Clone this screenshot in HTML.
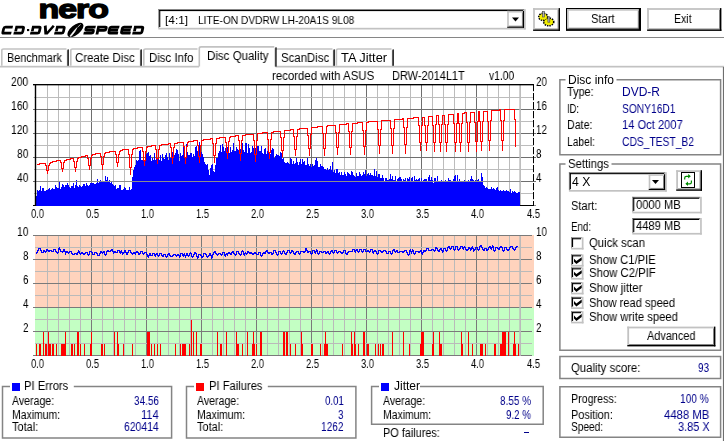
<!DOCTYPE html>
<html><head><meta charset="utf-8"><title>Nero CD-DVD Speed</title>
<style>
html,body{margin:0;padding:0;background:#fff;}
body{width:724px;height:441px;overflow:hidden;position:relative;font-family:"Liberation Sans",sans-serif;font-size:12px;color:#000;}
.t{position:absolute;white-space:pre;line-height:14px;height:14px;font-family:"Liberation Sans",sans-serif;will-change:transform;}
.sunk{position:absolute;box-sizing:border-box;background:#fff;border-top:1px solid #808080;border-left:1px solid #808080;border-right:1px solid #fff;border-bottom:1px solid #fff;}
.sunk>i{position:absolute;left:0;top:0;right:0;bottom:0;border-top:1px solid #000;border-left:1px solid #000;border-right:1px solid #c8c8c8;border-bottom:1px solid #c8c8c8;}
.btn{position:absolute;box-sizing:border-box;background:#fff;border-top:1px solid #fff;border-left:1px solid #fff;border-right:1px solid #000;border-bottom:1px solid #000;}
.btn>i{position:absolute;left:0;top:0;right:0;bottom:0;border-top:1px solid #c8c8c8;border-left:1px solid #c8c8c8;border-right:1px solid #808080;border-bottom:1px solid #808080;}
.grp{position:absolute;box-sizing:border-box;border:1px solid #808080;}
.cap{position:absolute;background:#fff;height:6px;top:-3px;}
.cb{position:absolute;box-sizing:border-box;width:13px;height:13px;background:#fff;border-top:1px solid #808080;border-left:1px solid #808080;border-right:1px solid #fff;border-bottom:1px solid #fff;}
.cb>i{position:absolute;left:0;top:0;right:0;bottom:0;border-top:1px solid #000;border-left:1px solid #000;border-right:1px solid #c8c8c8;border-bottom:1px solid #c8c8c8;}
svg{position:absolute;left:0;top:0;}
</style></head><body>

<svg width="150" height="40" viewBox="0 0 150 40">
<text font-family="Liberation Sans" font-weight="bold" font-size="26.6" stroke="#000" stroke-width="1.35" stroke-linejoin="round" letter-spacing="-0.75" transform="translate(38.4,17.9) scale(1.275,1)">nero</text>
<g fill="none" stroke="#000">
<path transform="translate(0.9,34.6) skewX(-13)" stroke-width="2.75" d="M10.1,-7.525H2.675Q1.375,-7.525 1.375,-6.2250000000000005V-2.675Q1.375,-1.375 2.675,-1.375H10.1"/>
<path transform="translate(13.3,34.6) skewX(-13)" stroke-width="2.75" d="M1.575,-3.45V-7.525H7.425Q8.725,-7.525 8.725,-6.2250000000000005V-2.675Q8.725,-1.375 7.425,-1.375H0"/>
<path transform="translate(29.9,34.6) skewX(-13)" stroke-width="2.75" d="M1.575,-3.45V-7.525H7.425Q8.725,-7.525 8.725,-6.2250000000000005V-2.675Q8.725,-1.375 7.425,-1.375H0"/>
<path transform="translate(41.8,34.6) skewX(-13)" stroke-width="2.75" d="M1.375,-8.9L3.6359999999999997,-1.375H5.05L9.9,-8.9"/>
<path transform="translate(54.0,34.6) skewX(-13)" stroke-width="2.75" d="M1.575,-3.45V-7.525H7.425Q8.725,-7.525 8.725,-6.2250000000000005V-2.675Q8.725,-1.375 7.425,-1.375H0"/>
<path transform="translate(83.3,34.6) skewX(-12)" stroke-width="2.85" d="M10.7,-7.4750000000000005H2.725Q1.425,-7.4750000000000005 1.425,-6.4350000000000005V-5.49Q1.425,-4.45 2.725,-4.45H7.974999999999999Q9.274999999999999,-4.45 9.274999999999999,-3.41V-2.465Q9.274999999999999,-1.425 7.974999999999999,-1.425H0"/>
<path transform="translate(95.5,34.6) skewX(-12)" stroke-width="2.85" d="M1.425,0V-7.4750000000000005H7.974999999999999Q9.274999999999999,-7.4750000000000005 9.274999999999999,-6.4350000000000005V-5.19Q9.274999999999999,-4.15 7.974999999999999,-4.15H1.425"/>
<path transform="translate(107.0,34.6) skewX(-12)" stroke-width="2.85" d="M10.7,-7.4750000000000005H2.725Q1.425,-7.4750000000000005 1.425,-6.175000000000001V-2.725Q1.425,-1.425 2.725,-1.425H10.7M1.425,-4.45H10.1"/>
<path transform="translate(119.6,34.6) skewX(-12)" stroke-width="2.85" d="M10.7,-7.4750000000000005H2.725Q1.425,-7.4750000000000005 1.425,-6.175000000000001V-2.725Q1.425,-1.425 2.725,-1.425H10.7M1.425,-4.45H10.1"/>
<path transform="translate(132.1,34.6) skewX(-12)" stroke-width="2.85" d="M1.625,-3.45V-7.4750000000000005H7.974999999999999Q9.274999999999999,-7.4750000000000005 9.274999999999999,-6.175000000000001V-2.725Q9.274999999999999,-1.425 7.974999999999999,-1.425H0"/>
</g>
<rect x="27" y="29" width="2.2" height="2.1" fill="#000"/>
<ellipse cx="75.4" cy="30" rx="4.7" ry="9.7" transform="rotate(51 75.4 30)" fill="#000"/>
<path d="M69.9 36.1Q73.4 31.0 77.0 27.6Q75.8 31.4 71.0 36.6Z" fill="#fff" stroke="#fff" stroke-width="0.5"/>
<path d="M77.6 27.2L80.6 24.4" fill="none" stroke="#ddd" stroke-width="0.8"/>
</svg>
<div style="position:absolute;left:0px;top:37px;width:724px;height:1px;background:#868686;"></div>
<svg width="724" height="441"><rect x="158.3" y="9.1" width="367.40" height="20.40" fill="#fff"/><rect x="524.00" y="9.1" width="1.7" height="20.40" fill="#c2c2c2"/><rect x="158.3" y="27.80" width="367.40" height="1.7" fill="#c2c2c2"/><rect x="158.3" y="9.1" width="365.70" height="1" fill="#7a7a7a"/><rect x="158.3" y="9.1" width="1" height="18.70" fill="#7a7a7a"/><rect x="159.20" y="10.00" width="364.00" height="1.1" fill="#000"/><rect x="159.20" y="10.00" width="1.1" height="17.00" fill="#000"/></svg>
<div class="t" style="top:13.2px;color:#000;font-size:11px;left:164.8px;transform:scaleX(1.080);transform-origin:0 0;">[4:1]</div>
<div class="t" style="top:13.2px;color:#000;font-size:11px;left:197.7px;transform:scaleX(0.924);transform-origin:0 0;">LITE-ON DVDRW LH-20A1S 9L08</div>
<svg width="724" height="441"><rect x="507.2" y="10.9" width="16.80" height="16.90" fill="#fff"/><rect x="507.2" y="10.9" width="15.70" height="1.6" fill="#c2c2c2"/><rect x="507.2" y="10.9" width="1.6" height="15.80" fill="#c2c2c2"/><rect x="508.80" y="25.70" width="14.10" height="1" fill="#858585"/><rect x="521.90" y="12.50" width="1" height="14.20" fill="#858585"/><rect x="507.2" y="26.70" width="16.80" height="1.1" fill="#000"/><rect x="522.90" y="10.9" width="1.1" height="16.90" fill="#000"/></svg>
<svg width="724" height="441"><path d="M512 17.5h7l-3.5 4z" fill="#000"/></svg>
<svg width="724" height="441"><rect x="533.1" y="8.1" width="26.90" height="22.80" fill="#fff"/><rect x="533.1" y="8.1" width="25.50" height="1.8" fill="#c2c2c2"/><rect x="533.1" y="8.1" width="1.8" height="21.40" fill="#c2c2c2"/><rect x="534.90" y="28.50" width="23.70" height="1" fill="#858585"/><rect x="557.60" y="9.90" width="1" height="19.60" fill="#858585"/><rect x="533.1" y="29.50" width="26.90" height="1.4" fill="#000"/><rect x="558.60" y="8.1" width="1.4" height="22.80" fill="#000"/></svg>
<svg width="724" height="441">
<g stroke="#000" stroke-width="1.9" fill="#f2ee00" stroke-dasharray="1.4 0.9">
<ellipse cx="543.2" cy="16.9" rx="4.3" ry="3.4"/>
<ellipse cx="548.7" cy="21.9" rx="4.9" ry="3.7"/>
</g>
<ellipse cx="543.2" cy="16.9" rx="3.6" ry="2.7" fill="#f2ee00"/><ellipse cx="548.7" cy="21.9" rx="4.2" ry="3.0" fill="#f2ee00"/>
<rect x="542.5" y="11.4" width="1.9" height="5.6" fill="#b4b4b4" stroke="#444" stroke-width="0.6"/>
<rect x="547.9" y="16.8" width="1.9" height="5.4" fill="#b4b4b4" stroke="#444" stroke-width="0.6"/>
</svg>
<svg width="724" height="441"><rect x="566" y="8" width="75.00" height="22.90" fill="#fff"/><rect x="566.5" y="8.5" width="74.00" height="21.90" fill="none" stroke="#000" stroke-width="1"/><rect x="567" y="9" width="71.80" height="1.7" fill="#c2c2c2"/><rect x="567" y="9" width="1.7" height="19.70" fill="#c2c2c2"/><rect x="568.70" y="27.70" width="70.10" height="1" fill="#858585"/><rect x="637.80" y="10.70" width="1" height="18.00" fill="#858585"/><rect x="567" y="28.70" width="73.00" height="1.2" fill="#000"/><rect x="638.80" y="9" width="1.2" height="20.90" fill="#000"/></svg>
<div class="t" style="top:11.9px;color:#000;font-size:12px;left:590.7px;transform:scaleX(0.932);transform-origin:0 0;">Start</div>
<svg width="724" height="441"><rect x="647.1" y="8.1" width="74.30" height="22.80" fill="#fff"/><rect x="647.1" y="8.1" width="72.90" height="1.8" fill="#c2c2c2"/><rect x="647.1" y="8.1" width="1.8" height="21.40" fill="#c2c2c2"/><rect x="648.90" y="28.50" width="71.10" height="1" fill="#858585"/><rect x="719.00" y="9.90" width="1" height="19.60" fill="#858585"/><rect x="647.1" y="29.50" width="74.30" height="1.4" fill="#000"/><rect x="720.00" y="8.1" width="1.4" height="22.80" fill="#000"/></svg>
<div class="t" style="top:11.9px;color:#000;font-size:12px;left:674.4px;transform:scaleX(0.877);transform-origin:0 0;">Exit</div>
<svg width="724" height="441"><rect x="0" y="65.8" width="199" height="1.7" fill="#c2c2c2"/><rect x="275.5" y="65.8" width="448.5" height="1.7" fill="#c2c2c2"/><rect x="722.9" y="67" width="1.1" height="374" fill="#6e6e6e"/><path d="M1.8 65.8V50.6Q1.8 49.0 3.6 49.0H66.5" fill="none" stroke="#c2c2c2" stroke-width="1.6"/><rect x="66.9" y="50.2" width="1" height="15.599999999999994" fill="#8a8a8a"/><rect x="67.6" y="49.400000000000006" width="1.2" height="16.399999999999995" fill="#000"/><path d="M70.8 65.8V50.6Q70.8 49.0 72.6 49.0H139.5" fill="none" stroke="#c2c2c2" stroke-width="1.6"/><rect x="139.9" y="50.2" width="1" height="15.599999999999994" fill="#8a8a8a"/><rect x="140.6" y="49.400000000000006" width="1.2" height="16.399999999999995" fill="#000"/><path d="M143.8 65.8V50.6Q143.8 49.0 145.6 49.0H197.5" fill="none" stroke="#c2c2c2" stroke-width="1.6"/><path d="M276 49.0H332.5" fill="none" stroke="#c2c2c2" stroke-width="1.6"/><rect x="332.9" y="50.2" width="1" height="15.599999999999994" fill="#8a8a8a"/><rect x="333.6" y="49.400000000000006" width="1.2" height="16.399999999999995" fill="#000"/><path d="M336.40000000000003 65.8V50.6Q336.40000000000003 49.0 338.20000000000005 49.0H391.5" fill="none" stroke="#c2c2c2" stroke-width="1.6"/><rect x="391.9" y="50.2" width="1" height="15.599999999999994" fill="#8a8a8a"/><rect x="392.6" y="49.400000000000006" width="1.2" height="16.399999999999995" fill="#000"/><path d="M199.3 66.6V48.5Q199.3 46.9 201.1 46.9H274.3" fill="none" stroke="#c2c2c2" stroke-width="1.6"/><rect x="274.7" y="48.1" width="1" height="18.499999999999993" fill="#8a8a8a"/><rect x="275.40000000000003" y="47.300000000000004" width="1.2" height="19.299999999999994" fill="#000"/></svg>
<div class="t" style="top:50.9px;color:#000;font-size:12px;left:6.6px;transform:scaleX(0.904);transform-origin:0 0;">Benchmark</div>
<div class="t" style="top:50.9px;color:#000;font-size:12px;left:74.9px;transform:scaleX(0.953);transform-origin:0 0;">Create Disc</div>
<div class="t" style="top:50.9px;color:#000;font-size:12px;left:148.5px;transform:scaleX(0.951);transform-origin:0 0;">Disc Info</div>
<div class="t" style="top:50.9px;color:#000;font-size:12px;left:280.5px;transform:scaleX(0.950);transform-origin:0 0;">ScanDisc</div>
<div class="t" style="top:50.9px;color:#000;font-size:12px;left:340.8px;transform:scaleX(1.069);transform-origin:0 0;">TA Jitter</div>
<div class="t" style="top:48.7px;color:#000;font-size:12px;left:206.6px;transform:scaleX(0.960);transform-origin:0 0;">Disc Quality</div>
<div class="t" style="top:68.8px;color:#000;font-size:12px;left:271.7px;transform:scaleX(0.951);transform-origin:0 0;">recorded with ASUS</div>
<div class="t" style="top:68.8px;color:#000;font-size:12px;left:392.0px;transform:scaleX(0.914);transform-origin:0 0;">DRW-2014L1T</div>
<div class="t" style="top:68.8px;color:#000;font-size:12px;left:488.8px;transform:scaleX(0.856);transform-origin:0 0;">v1.00</div>
<svg width="724" height="441" shape-rendering="crispEdges"><rect x="35" y="235" width="499" height="72.5" fill="#ffd3bd"/><rect x="35" y="307.5" width="499" height="48.5" fill="#c3ffc3"/><rect x="47" y="85" width="1" height="121" fill="#bcbcbc"/><rect x="47" y="236" width="1" height="120" fill="#bababa"/><rect x="58" y="85" width="1" height="121" fill="#bcbcbc"/><rect x="58" y="236" width="1" height="120" fill="#bababa"/><rect x="69" y="85" width="1" height="121" fill="#bcbcbc"/><rect x="69" y="236" width="1" height="120" fill="#bababa"/><rect x="80" y="85" width="1" height="121" fill="#bcbcbc"/><rect x="80" y="236" width="1" height="120" fill="#bababa"/><rect x="91" y="85" width="1" height="121" fill="#6e6e6e"/><rect x="91" y="236" width="1" height="120" fill="#7a7a7a"/><rect x="102" y="85" width="1" height="121" fill="#bcbcbc"/><rect x="102" y="236" width="1" height="120" fill="#bababa"/><rect x="113" y="85" width="1" height="121" fill="#bcbcbc"/><rect x="113" y="236" width="1" height="120" fill="#bababa"/><rect x="124" y="85" width="1" height="121" fill="#bcbcbc"/><rect x="124" y="236" width="1" height="120" fill="#bababa"/><rect x="135" y="85" width="1" height="121" fill="#bcbcbc"/><rect x="135" y="236" width="1" height="120" fill="#bababa"/><rect x="146" y="85" width="1" height="121" fill="#6e6e6e"/><rect x="146" y="236" width="1" height="120" fill="#7a7a7a"/><rect x="157" y="85" width="1" height="121" fill="#bcbcbc"/><rect x="157" y="236" width="1" height="120" fill="#bababa"/><rect x="168" y="85" width="1" height="121" fill="#bcbcbc"/><rect x="168" y="236" width="1" height="120" fill="#bababa"/><rect x="179" y="85" width="1" height="121" fill="#bcbcbc"/><rect x="179" y="236" width="1" height="120" fill="#bababa"/><rect x="190" y="85" width="1" height="121" fill="#bcbcbc"/><rect x="190" y="236" width="1" height="120" fill="#bababa"/><rect x="201" y="85" width="1" height="121" fill="#6e6e6e"/><rect x="201" y="236" width="1" height="120" fill="#7a7a7a"/><rect x="212" y="85" width="1" height="121" fill="#bcbcbc"/><rect x="212" y="236" width="1" height="120" fill="#bababa"/><rect x="223" y="85" width="1" height="121" fill="#bcbcbc"/><rect x="223" y="236" width="1" height="120" fill="#bababa"/><rect x="234" y="85" width="1" height="121" fill="#bcbcbc"/><rect x="234" y="236" width="1" height="120" fill="#bababa"/><rect x="245" y="85" width="1" height="121" fill="#bcbcbc"/><rect x="245" y="236" width="1" height="120" fill="#bababa"/><rect x="256" y="85" width="1" height="121" fill="#6e6e6e"/><rect x="256" y="236" width="1" height="120" fill="#7a7a7a"/><rect x="267" y="85" width="1" height="121" fill="#bcbcbc"/><rect x="267" y="236" width="1" height="120" fill="#bababa"/><rect x="278" y="85" width="1" height="121" fill="#bcbcbc"/><rect x="278" y="236" width="1" height="120" fill="#bababa"/><rect x="289" y="85" width="1" height="121" fill="#bcbcbc"/><rect x="289" y="236" width="1" height="120" fill="#bababa"/><rect x="300" y="85" width="1" height="121" fill="#bcbcbc"/><rect x="300" y="236" width="1" height="120" fill="#bababa"/><rect x="311" y="85" width="1" height="121" fill="#6e6e6e"/><rect x="311" y="236" width="1" height="120" fill="#7a7a7a"/><rect x="322" y="85" width="1" height="121" fill="#bcbcbc"/><rect x="322" y="236" width="1" height="120" fill="#bababa"/><rect x="333" y="85" width="1" height="121" fill="#bcbcbc"/><rect x="333" y="236" width="1" height="120" fill="#bababa"/><rect x="344" y="85" width="1" height="121" fill="#bcbcbc"/><rect x="344" y="236" width="1" height="120" fill="#bababa"/><rect x="355" y="85" width="1" height="121" fill="#bcbcbc"/><rect x="355" y="236" width="1" height="120" fill="#bababa"/><rect x="366" y="85" width="1" height="121" fill="#6e6e6e"/><rect x="366" y="236" width="1" height="120" fill="#7a7a7a"/><rect x="377" y="85" width="1" height="121" fill="#bcbcbc"/><rect x="377" y="236" width="1" height="120" fill="#bababa"/><rect x="388" y="85" width="1" height="121" fill="#bcbcbc"/><rect x="388" y="236" width="1" height="120" fill="#bababa"/><rect x="399" y="85" width="1" height="121" fill="#bcbcbc"/><rect x="399" y="236" width="1" height="120" fill="#bababa"/><rect x="410" y="85" width="1" height="121" fill="#bcbcbc"/><rect x="410" y="236" width="1" height="120" fill="#bababa"/><rect x="421" y="85" width="1" height="121" fill="#6e6e6e"/><rect x="421" y="236" width="1" height="120" fill="#7a7a7a"/><rect x="432" y="85" width="1" height="121" fill="#bcbcbc"/><rect x="432" y="236" width="1" height="120" fill="#bababa"/><rect x="443" y="85" width="1" height="121" fill="#bcbcbc"/><rect x="443" y="236" width="1" height="120" fill="#bababa"/><rect x="454" y="85" width="1" height="121" fill="#bcbcbc"/><rect x="454" y="236" width="1" height="120" fill="#bababa"/><rect x="465" y="85" width="1" height="121" fill="#bcbcbc"/><rect x="465" y="236" width="1" height="120" fill="#bababa"/><rect x="476" y="85" width="1" height="121" fill="#6e6e6e"/><rect x="476" y="236" width="1" height="120" fill="#7a7a7a"/><rect x="487" y="85" width="1" height="121" fill="#bcbcbc"/><rect x="487" y="236" width="1" height="120" fill="#bababa"/><rect x="498" y="85" width="1" height="121" fill="#bcbcbc"/><rect x="498" y="236" width="1" height="120" fill="#bababa"/><rect x="509" y="85" width="1" height="121" fill="#bcbcbc"/><rect x="509" y="236" width="1" height="120" fill="#bababa"/><rect x="520" y="85" width="1" height="121" fill="#bcbcbc"/><rect x="520" y="236" width="1" height="120" fill="#bababa"/><rect x="34" y="97" width="499" height="1" fill="#bcbcbc"/><rect x="33" y="109" width="503" height="1" fill="#6e6e6e"/><rect x="34" y="121" width="499" height="1" fill="#bcbcbc"/><rect x="33" y="133" width="503" height="1" fill="#6e6e6e"/><rect x="34" y="145" width="499" height="1" fill="#bcbcbc"/><rect x="33" y="157" width="503" height="1" fill="#6e6e6e"/><rect x="34" y="169" width="499" height="1" fill="#bcbcbc"/><rect x="33" y="181" width="503" height="1" fill="#6e6e6e"/><rect x="34" y="193" width="499" height="1" fill="#bcbcbc"/><rect x="33" y="235" width="499" height="1" fill="#7a7a7a"/><rect x="35" y="247" width="497" height="1" fill="#bababa"/><rect x="33" y="259" width="499" height="1" fill="#7a7a7a"/><rect x="35" y="271" width="497" height="1" fill="#bababa"/><rect x="33" y="283" width="499" height="1" fill="#7a7a7a"/><rect x="35" y="295" width="497" height="1" fill="#bababa"/><rect x="33" y="307" width="499" height="1" fill="#7a7a7a"/><rect x="35" y="319" width="497" height="1" fill="#bababa"/><rect x="33" y="331" width="499" height="1" fill="#7a7a7a"/><rect x="35" y="343" width="497" height="1" fill="#bababa"/><rect x="33" y="355" width="499" height="1" fill="#7a7a7a"/><rect x="519.3" y="85" width="1.6" height="121" fill="#bdbdbd" shape-rendering="auto"/><rect x="519.3" y="236" width="1.6" height="120" fill="#bbbbbb" shape-rendering="auto"/><path d="M36 196h1v10h-1zM37 190h1v16h-1zM38 191h1v15h-1zM39 190h1v16h-1zM40 186h1v20h-1zM41 191h1v15h-1zM42 188h1v18h-1zM43 188h1v18h-1zM44 191h1v15h-1zM45 191h1v15h-1zM46 190h1v16h-1zM47 190h1v16h-1zM48 189h1v17h-1zM49 188h1v18h-1zM50 190h1v16h-1zM51 189h1v17h-1zM52 188h1v18h-1zM53 189h1v17h-1zM54 189h1v17h-1zM55 185h1v21h-1zM56 187h1v19h-1zM57 188h1v18h-1zM58 188h1v18h-1zM59 182h1v24h-1zM60 189h1v17h-1zM61 187h1v19h-1zM62 184h1v22h-1zM63 185h1v21h-1zM64 187h1v19h-1zM65 185h1v21h-1zM66 185h1v21h-1zM67 183h1v23h-1zM68 185h1v21h-1zM69 187h1v19h-1zM70 188h1v18h-1zM71 186h1v20h-1zM72 186h1v20h-1zM73 183h1v23h-1zM74 188h1v18h-1zM75 185h1v21h-1zM76 180h1v26h-1zM77 186h1v20h-1zM78 187h1v19h-1zM79 185h1v21h-1zM80 186h1v20h-1zM81 187h1v19h-1zM82 186h1v20h-1zM83 184h1v22h-1zM84 184h1v22h-1zM85 186h1v20h-1zM86 183h1v23h-1zM87 185h1v21h-1zM88 186h1v20h-1zM89 185h1v21h-1zM90 183h1v23h-1zM91 183h1v23h-1zM92 183h1v23h-1zM93 183h1v23h-1zM94 184h1v22h-1zM95 184h1v22h-1zM96 183h1v23h-1zM97 179h1v27h-1zM98 183h1v23h-1zM99 182h1v24h-1zM100 180h1v26h-1zM101 181h1v25h-1zM102 181h1v25h-1zM103 181h1v25h-1zM104 181h1v25h-1zM105 176h1v30h-1zM106 180h1v26h-1zM107 177h1v29h-1zM108 181h1v25h-1zM109 180h1v26h-1zM110 183h1v23h-1zM111 181h1v25h-1zM112 184h1v22h-1zM113 185h1v21h-1zM114 186h1v20h-1zM115 185h1v21h-1zM116 189h1v17h-1zM117 188h1v18h-1zM118 188h1v18h-1zM119 185h1v21h-1zM120 185h1v21h-1zM121 190h1v16h-1zM122 190h1v16h-1zM123 189h1v17h-1zM124 187h1v19h-1zM125 188h1v18h-1zM126 190h1v16h-1zM127 190h1v16h-1zM128 190h1v16h-1zM129 187h1v19h-1zM130 190h1v16h-1zM131 189h1v17h-1zM132 177h1v29h-1zM133 170h1v36h-1zM134 167h1v39h-1zM135 165h1v41h-1zM136 160h1v46h-1zM137 161h1v45h-1zM138 160h1v46h-1zM139 151h1v55h-1zM140 150h1v56h-1zM141 160h1v46h-1zM142 160h1v46h-1zM143 158h1v48h-1zM144 161h1v45h-1zM145 155h1v51h-1zM146 154h1v52h-1zM147 153h1v53h-1zM148 152h1v54h-1zM149 156h1v50h-1zM150 155h1v51h-1zM151 161h1v45h-1zM152 158h1v48h-1zM153 160h1v46h-1zM154 153h1v53h-1zM155 160h1v46h-1zM156 155h1v51h-1zM157 160h1v46h-1zM158 158h1v48h-1zM159 160h1v46h-1zM160 155h1v51h-1zM161 161h1v45h-1zM162 154h1v52h-1zM163 158h1v48h-1zM164 159h1v47h-1zM165 155h1v51h-1zM166 153h1v53h-1zM167 157h1v49h-1zM168 160h1v46h-1zM169 153h1v53h-1zM170 158h1v48h-1zM171 158h1v48h-1zM172 152h1v54h-1zM173 157h1v49h-1zM174 155h1v51h-1zM175 153h1v53h-1zM176 149h1v57h-1zM177 150h1v56h-1zM178 154h1v52h-1zM179 161h1v45h-1zM180 153h1v53h-1zM181 156h1v50h-1zM182 155h1v51h-1zM183 145h1v61h-1zM184 153h1v53h-1zM185 157h1v49h-1zM186 144h1v62h-1zM187 152h1v54h-1zM188 155h1v51h-1zM189 155h1v51h-1zM190 153h1v53h-1zM191 153h1v53h-1zM192 157h1v49h-1zM193 154h1v52h-1zM194 156h1v50h-1zM195 147h1v59h-1zM196 146h1v60h-1zM197 151h1v55h-1zM198 147h1v59h-1zM199 142h1v64h-1zM200 154h1v52h-1zM201 152h1v54h-1zM202 154h1v52h-1zM203 157h1v49h-1zM204 162h1v44h-1zM205 164h1v42h-1zM206 165h1v41h-1zM207 164h1v42h-1zM208 170h1v36h-1zM209 175h1v31h-1zM210 168h1v38h-1zM211 165h1v41h-1zM212 164h1v42h-1zM213 171h1v35h-1zM214 172h1v34h-1zM215 165h1v41h-1zM216 158h1v48h-1zM217 158h1v48h-1zM218 153h1v53h-1zM219 151h1v55h-1zM220 145h1v61h-1zM221 152h1v54h-1zM222 144h1v62h-1zM223 147h1v59h-1zM224 151h1v55h-1zM225 148h1v58h-1zM226 149h1v57h-1zM227 147h1v59h-1zM228 148h1v58h-1zM229 153h1v53h-1zM230 147h1v59h-1zM231 152h1v54h-1zM232 150h1v56h-1zM233 143h1v63h-1zM234 151h1v55h-1zM235 151h1v55h-1zM236 147h1v59h-1zM237 149h1v57h-1zM238 150h1v56h-1zM239 142h1v64h-1zM240 149h1v57h-1zM241 152h1v54h-1zM242 143h1v63h-1zM243 150h1v56h-1zM244 152h1v54h-1zM245 143h1v63h-1zM246 143h1v63h-1zM247 153h1v53h-1zM248 144h1v62h-1zM249 148h1v58h-1zM250 153h1v53h-1zM251 152h1v54h-1zM252 146h1v60h-1zM253 148h1v58h-1zM254 148h1v58h-1zM255 148h1v58h-1zM256 146h1v60h-1zM257 146h1v60h-1zM258 146h1v60h-1zM259 151h1v55h-1zM260 151h1v55h-1zM261 146h1v60h-1zM262 153h1v53h-1zM263 154h1v52h-1zM264 149h1v57h-1zM265 148h1v58h-1zM266 154h1v52h-1zM267 151h1v55h-1zM268 145h1v61h-1zM269 154h1v52h-1zM270 154h1v52h-1zM271 150h1v56h-1zM272 148h1v58h-1zM273 149h1v57h-1zM274 158h1v48h-1zM275 156h1v50h-1zM276 154h1v52h-1zM277 155h1v51h-1zM278 155h1v51h-1zM279 156h1v50h-1zM280 152h1v54h-1zM281 153h1v53h-1zM282 159h1v47h-1zM283 158h1v48h-1zM284 162h1v44h-1zM285 163h1v43h-1zM286 163h1v43h-1zM287 162h1v44h-1zM288 163h1v43h-1zM289 164h1v42h-1zM290 158h1v48h-1zM291 159h1v47h-1zM292 164h1v42h-1zM293 161h1v45h-1zM294 164h1v42h-1zM295 163h1v43h-1zM296 158h1v48h-1zM297 162h1v44h-1zM298 165h1v41h-1zM299 162h1v44h-1zM300 159h1v47h-1zM301 164h1v42h-1zM302 159h1v47h-1zM303 162h1v44h-1zM304 161h1v45h-1zM305 165h1v41h-1zM306 165h1v41h-1zM307 158h1v48h-1zM308 164h1v42h-1zM309 166h1v40h-1zM310 164h1v42h-1zM311 167h1v39h-1zM312 164h1v42h-1zM313 166h1v40h-1zM314 165h1v41h-1zM315 160h1v46h-1zM316 158h1v48h-1zM317 161h1v45h-1zM318 167h1v39h-1zM319 167h1v39h-1zM320 164h1v42h-1zM321 166h1v40h-1zM322 166h1v40h-1zM323 167h1v39h-1zM324 169h1v37h-1zM325 169h1v37h-1zM326 170h1v36h-1zM327 168h1v38h-1zM328 170h1v36h-1zM329 169h1v37h-1zM330 166h1v40h-1zM331 170h1v36h-1zM332 162h1v44h-1zM333 172h1v34h-1zM334 170h1v36h-1zM335 173h1v33h-1zM336 169h1v37h-1zM337 169h1v37h-1zM338 173h1v33h-1zM339 172h1v34h-1zM340 175h1v31h-1zM341 172h1v34h-1zM342 175h1v31h-1zM343 175h1v31h-1zM344 172h1v34h-1zM345 174h1v32h-1zM346 176h1v30h-1zM347 172h1v34h-1zM348 173h1v33h-1zM349 174h1v32h-1zM350 175h1v31h-1zM351 171h1v35h-1zM352 172h1v34h-1zM353 175h1v31h-1zM354 176h1v30h-1zM355 177h1v29h-1zM356 173h1v33h-1zM357 176h1v30h-1zM358 176h1v30h-1zM359 172h1v34h-1zM360 174h1v32h-1zM361 176h1v30h-1zM362 175h1v31h-1zM363 172h1v34h-1zM364 174h1v32h-1zM365 170h1v36h-1zM366 176h1v30h-1zM367 174h1v32h-1zM368 173h1v33h-1zM369 175h1v31h-1zM370 173h1v33h-1zM371 175h1v31h-1zM372 175h1v31h-1zM373 176h1v30h-1zM374 169h1v37h-1zM375 176h1v30h-1zM376 171h1v35h-1zM377 177h1v29h-1zM378 174h1v32h-1zM379 174h1v32h-1zM380 178h1v28h-1zM381 178h1v28h-1zM382 175h1v31h-1zM383 178h1v28h-1zM384 182h1v24h-1zM385 178h1v28h-1zM386 178h1v28h-1zM387 180h1v26h-1zM388 180h1v26h-1zM389 179h1v27h-1zM390 174h1v32h-1zM391 179h1v27h-1zM392 176h1v30h-1zM393 180h1v26h-1zM394 180h1v26h-1zM395 176h1v30h-1zM396 181h1v25h-1zM397 179h1v27h-1zM398 178h1v28h-1zM399 177h1v29h-1zM400 177h1v29h-1zM401 179h1v27h-1zM402 181h1v25h-1zM403 179h1v27h-1zM404 180h1v26h-1zM405 178h1v28h-1zM406 181h1v25h-1zM407 178h1v28h-1zM408 179h1v27h-1zM409 177h1v29h-1zM410 181h1v25h-1zM411 178h1v28h-1zM412 177h1v29h-1zM413 182h1v24h-1zM414 176h1v30h-1zM415 180h1v26h-1zM416 179h1v27h-1zM417 180h1v26h-1zM418 179h1v27h-1zM419 178h1v28h-1zM420 181h1v25h-1zM421 178h1v28h-1zM422 181h1v25h-1zM423 180h1v26h-1zM424 179h1v27h-1zM425 179h1v27h-1zM426 179h1v27h-1zM427 182h1v24h-1zM428 177h1v29h-1zM429 175h1v31h-1zM430 180h1v26h-1zM431 177h1v29h-1zM432 180h1v26h-1zM433 183h1v23h-1zM434 178h1v28h-1zM435 178h1v28h-1zM436 181h1v25h-1zM437 176h1v30h-1zM438 181h1v25h-1zM439 181h1v25h-1zM440 181h1v25h-1zM441 180h1v26h-1zM442 182h1v24h-1zM443 182h1v24h-1zM444 181h1v25h-1zM445 180h1v26h-1zM446 181h1v25h-1zM447 182h1v24h-1zM448 178h1v28h-1zM449 180h1v26h-1zM450 180h1v26h-1zM451 181h1v25h-1zM452 181h1v25h-1zM453 179h1v27h-1zM454 176h1v30h-1zM455 175h1v31h-1zM456 182h1v24h-1zM457 175h1v31h-1zM458 181h1v25h-1zM459 179h1v27h-1zM460 182h1v24h-1zM461 182h1v24h-1zM462 181h1v25h-1zM463 181h1v25h-1zM464 180h1v26h-1zM465 182h1v24h-1zM466 181h1v25h-1zM467 181h1v25h-1zM468 180h1v26h-1zM469 182h1v24h-1zM470 179h1v27h-1zM471 176h1v30h-1zM472 179h1v27h-1zM473 180h1v26h-1zM474 182h1v24h-1zM475 180h1v26h-1zM476 181h1v25h-1zM477 180h1v26h-1zM478 179h1v27h-1zM479 182h1v24h-1zM480 181h1v25h-1zM481 173h1v33h-1zM482 177h1v29h-1zM483 185h1v21h-1zM484 186h1v20h-1zM485 188h1v18h-1zM486 187h1v19h-1zM487 188h1v18h-1zM488 189h1v17h-1zM489 189h1v17h-1zM490 189h1v17h-1zM491 187h1v19h-1zM492 189h1v17h-1zM493 188h1v18h-1zM494 189h1v17h-1zM495 190h1v16h-1zM496 188h1v18h-1zM497 187h1v19h-1zM498 190h1v16h-1zM499 191h1v15h-1zM500 190h1v16h-1zM501 191h1v15h-1zM502 191h1v15h-1zM503 190h1v16h-1zM504 191h1v15h-1zM505 191h1v15h-1zM506 190h1v16h-1zM507 191h1v15h-1zM508 191h1v15h-1zM509 192h1v14h-1zM510 189h1v17h-1zM511 193h1v13h-1zM512 191h1v15h-1zM513 192h1v14h-1zM514 191h1v15h-1zM515 192h1v14h-1zM516 193h1v13h-1zM517 193h1v13h-1zM518 192h1v14h-1zM519 192h1v14h-1z" fill="#0000ff"/><rect x="36" y="181" width="484" height="1" fill="#8c8c8c"/><path d="M36 344h1v12h-1zM39 344h2v12h-2zM43 332h1v24h-1zM45 344h2v12h-2zM48 332h1v24h-1zM49 344h2v12h-2zM52 344h2v12h-2zM56 344h1v12h-1zM61 344h4v12h-4zM65 332h1v24h-1zM71 344h2v12h-2zM74 344h1v12h-1zM77 332h2v24h-2zM80 344h1v12h-1zM84 344h1v12h-1zM90 344h1v12h-1zM91 332h1v24h-1zM101 344h2v12h-2zM104 344h1v12h-1zM114 332h1v24h-1zM117 332h1v24h-1zM118 344h1v12h-1zM123 344h1v12h-1zM132 344h1v12h-1zM147 332h3v24h-3zM151 344h1v12h-1zM154 344h1v12h-1zM157 344h1v12h-1zM160 344h1v12h-1zM175 344h1v12h-1zM180 344h1v12h-1zM182 344h4v12h-4zM189 344h1v12h-1zM191 320h1v36h-1zM193 332h1v24h-1zM196 332h1v24h-1zM200 344h2v12h-2zM217 332h1v24h-1zM220 344h2v12h-2zM226 332h1v24h-1zM236 332h1v24h-1zM237 344h2v12h-2zM242 344h1v12h-1zM247 332h1v24h-1zM252 344h3v12h-3zM253 332h1v24h-1zM256 344h1v12h-1zM260 332h2v24h-2zM283 332h2v24h-2zM286 332h2v24h-2zM290 344h1v12h-1zM295 344h1v12h-1zM301 332h1v24h-1zM302 344h1v12h-1zM311 344h2v12h-2zM320 344h1v12h-1zM324 344h4v12h-4zM325 332h1v24h-1zM342 344h1v12h-1zM351 332h1v24h-1zM352 344h1v12h-1zM354 332h1v24h-1zM355 344h1v12h-1zM358 344h1v12h-1zM363 332h2v24h-2zM367 344h2v12h-2zM375 344h1v12h-1zM378 344h1v12h-1zM380 344h1v12h-1zM382 344h2v12h-2zM392 332h1v24h-1zM403 332h1v24h-1zM409 344h1v12h-1zM420 344h1v12h-1zM421 332h3v24h-3zM432 344h1v12h-1zM433 332h1v24h-1zM439 332h1v24h-1zM440 344h2v12h-2zM461 332h1v24h-1zM462 344h1v12h-1zM468 332h1v24h-1zM472 344h1v12h-1zM480 344h3v12h-3zM485 344h1v12h-1zM494 344h2v12h-2zM500 344h2v12h-2zM502 332h4v24h-4zM508 332h1v24h-1zM513 344h1v12h-1zM514 332h1v24h-1zM515 344h1v12h-1zM518 344h1v12h-1z" fill="#ff0000"/><rect x="33" y="84" width="501" height="1.35" fill="#000" shape-rendering="auto"/><rect x="34.8" y="84" width="1.4" height="122" fill="#000" shape-rendering="auto"/><rect x="33" y="205" width="3" height="1" fill="#000"/><rect x="520" y="205" width="14" height="1.2" fill="#000"/><rect x="534" y="205" width="2" height="1" fill="#8a8a8a"/><rect x="533" y="84.0" width="1" height="7.2" fill="#000" shape-rendering="auto"/><rect x="533" y="93.0" width="1" height="7.2" fill="#000" shape-rendering="auto"/><rect x="533" y="102.0" width="1" height="7.2" fill="#000" shape-rendering="auto"/><rect x="533" y="111.0" width="1" height="7.2" fill="#000" shape-rendering="auto"/><rect x="533" y="120.0" width="1" height="7.2" fill="#000" shape-rendering="auto"/><rect x="533" y="129.0" width="1" height="7.2" fill="#000" shape-rendering="auto"/><rect x="533" y="138.0" width="1" height="7.2" fill="#000" shape-rendering="auto"/><rect x="533" y="147.0" width="1" height="7.2" fill="#000" shape-rendering="auto"/><rect x="533" y="156.0" width="1" height="7.2" fill="#000" shape-rendering="auto"/><rect x="533" y="165.0" width="1" height="7.2" fill="#000" shape-rendering="auto"/><rect x="533" y="174.0" width="1" height="7.2" fill="#000" shape-rendering="auto"/><rect x="533" y="183.0" width="1" height="7.2" fill="#000" shape-rendering="auto"/><rect x="533" y="192.0" width="1" height="7.2" fill="#000" shape-rendering="auto"/><rect x="533" y="201.0" width="1" height="5.0" fill="#000" shape-rendering="auto"/></svg>
<svg width="724" height="441"><path d="M36.5 164.5H37.5H38.5V164.5H39.5V163.5H40.5H41.5H42.5H43.5H44.5V163.5H45.5V162.5V165.5H46.5V167.5V170.5H47.5V173.5V170.5H48.5V167.5V165.5H49.5V163.5V163.5H50.5V162.5H51.5V162.5H52.5V161.5H53.5H54.5H55.5V161.5H56.5V160.5H57.5H58.5H59.5H60.5V162.5H61.5V164.5V168.5H62.5V171.5V168.5H63.5V164.5V162.5H64.5V160.5H65.5V160.5H66.5V159.5H67.5H68.5H69.5V159.5H70.5V158.5H71.5H72.5H73.5V161.5H74.5V163.5V167.5H75.5V171.5V167.5H76.5V163.5V161.5H77.5V158.5V158.5H78.5V157.5H79.5H80.5V157.5H81.5V156.5H82.5H83.5H84.5V156.5H85.5V155.5H86.5H87.5V158.5H88.5V161.5V165.5H89.5V169.5V165.5H90.5V160.5V158.5H91.5V155.5V155.5H92.5V154.5H93.5H94.5V154.5H95.5V153.5H96.5H97.5H98.5H99.5H100.5V156.5H101.5V159.5V164.5H102.5V169.5V164.5H103.5V159.5V156.5H104.5V153.5V153.5H105.5V152.5H106.5H107.5H108.5V152.5H109.5V151.5H110.5H111.5H112.5H113.5H114.5V151.5H115.5V150.5V154.5H116.5V157.5V162.5H117.5V166.5V162.5H118.5V157.5V154.5H119.5V151.5V151.5H120.5V150.5H121.5V150.5H122.5V149.5H123.5H124.5H125.5H126.5H127.5H128.5V154.5H129.5V159.5V167.5H130.5V174.5V167.5H131.5V159.5V154.5H132.5V149.5V149.5H133.5V148.5H134.5H135.5H136.5V148.5H137.5V147.5H138.5H139.5H140.5H141.5H142.5V151.5H143.5V154.5V160.5H144.5V165.5V160.5H145.5V154.5V151.5H146.5V147.5V147.5H147.5V146.5H148.5H149.5H150.5V146.5H151.5V145.5H152.5H153.5H154.5H155.5V149.5H156.5V153.5V158.5H157.5V163.5V158.5H158.5V152.5V149.5H159.5V145.5H160.5V145.5H161.5V144.5H162.5H163.5H164.5H165.5H166.5H167.5V144.5H168.5V143.5H169.5H170.5V147.5H171.5V151.5V157.5H172.5V163.5V157.5H173.5V151.5V147.5H174.5V143.5H175.5H176.5V143.5H177.5V142.5H178.5H179.5H180.5H181.5H182.5H183.5V146.5H184.5V150.5V157.5H185.5V163.5V157.5H186.5V150.5V146.5H187.5V142.5V142.5H188.5V141.5H189.5H190.5H191.5H192.5V141.5H193.5V140.5H194.5H195.5H196.5H197.5V145.5H198.5V149.5V156.5H199.5V162.5V156.5H200.5V149.5V145.5H201.5V140.5H202.5V140.5H203.5V139.5H204.5H205.5H206.5H207.5H208.5H209.5V139.5H210.5V138.5H211.5H212.5V143.5H213.5V148.5V155.5H214.5V162.5V155.5H215.5V148.5V143.5H216.5V138.5H217.5H218.5V138.5H219.5V137.5H220.5H221.5H222.5H223.5H224.5H225.5V142.5H226.5V146.5V152.5H227.5V158.5V152.5H228.5V145.5V141.5H229.5V137.5V137.5H230.5V136.5H231.5H232.5H233.5H234.5V136.5H235.5V135.5H236.5H237.5H238.5V140.5H239.5V145.5V153.5H240.5V160.5V153.5H241.5V145.5V140.5H242.5V135.5H243.5H244.5V135.5H245.5V134.5H246.5H247.5H248.5H249.5H250.5H251.5H252.5V134.5H253.5V133.5V140.5H254.5V147.5V154.5H255.5V161.5V154.5H256.5V147.5V140.5H257.5V133.5H258.5H259.5H260.5H261.5V133.5H262.5V132.5H263.5H264.5H265.5H266.5H267.5V139.5H268.5V145.5V152.5H269.5V158.5V152.5H270.5V145.5V139.5H271.5V132.5H272.5V132.5H273.5V131.5H274.5H275.5H276.5H277.5H278.5H279.5V131.5H280.5V130.5V137.5H281.5V143.5V150.5H282.5V156.5V150.5H283.5V143.5V137.5H284.5V130.5H285.5H286.5H287.5H288.5H289.5V130.5H290.5V129.5H291.5H292.5H293.5V136.5H294.5V142.5V149.5H295.5V155.5V149.5H296.5V142.5V136.5H297.5V129.5H298.5V129.5H299.5V128.5H300.5H301.5H302.5H303.5H304.5H305.5H306.5H307.5V135.5H308.5V141.5V148.5H309.5V155.5V148.5H310.5V141.5V134.5H311.5V127.5H312.5H313.5H314.5H315.5H316.5V127.5H317.5V126.5H318.5H319.5H320.5H321.5H322.5V133.5H323.5V140.5V148.5H324.5V155.5V148.5H325.5V140.5V133.5H326.5V126.5V126.5H327.5V125.5H328.5H329.5H330.5H331.5H332.5H333.5H334.5V125.5H335.5V124.5V132.5H336.5V139.5V147.5H337.5V154.5V147.5H338.5V139.5V132.5H339.5V124.5H340.5H341.5H342.5H343.5H344.5H345.5V124.5H346.5V123.5H347.5H348.5V131.5H349.5V139.5V147.5H350.5V154.5V147.5H351.5V139.5V131.5H352.5V123.5H353.5H354.5H355.5H356.5V123.5H357.5V122.5H358.5H359.5H360.5H361.5H362.5V130.5H363.5V138.5V146.5H364.5V154.5V146.5H365.5V138.5V130.5H366.5V122.5H367.5V122.5H368.5V121.5H369.5H370.5H371.5H372.5H373.5H374.5H375.5H376.5H377.5V129.5H378.5V137.5V145.5H379.5V153.5V145.5H380.5V137.5V129.5H381.5V120.5H382.5H383.5H384.5H385.5H386.5H387.5H388.5H389.5H390.5V128.5H391.5V136.5V145.5H392.5V153.5V145.5H393.5V136.5V128.5H394.5V119.5H395.5H396.5H397.5H398.5H399.5H400.5H401.5V119.5H402.5V118.5H403.5V127.5H404.5V135.5V144.5H405.5V153.5V144.5H406.5V135.5V127.5H407.5V118.5H408.5H409.5H410.5H411.5H412.5V118.5H413.5V117.5H414.5H415.5H416.5H417.5H418.5V125.5H419.5V133.5V142.5H420.5V150.5V142.5H421.5V133.5V125.5H422.5V117.5H423.5V117.5H424.5V116.5V125.5H425.5V133.5V142.5H426.5V150.5V142.5H427.5V133.5V125.5H428.5V116.5H429.5H430.5H431.5H432.5V125.5H433.5V133.5V142.5H434.5V151.5V142.5H435.5V133.5V124.5H436.5V115.5H437.5H438.5V124.5H439.5V133.5V142.5H440.5V151.5V142.5H441.5V133.5V124.5H442.5V115.5H443.5H444.5V124.5H445.5V133.5V142.5H446.5V151.5V142.5H447.5V133.5V124.5H448.5V114.5H449.5H450.5H451.5H452.5H453.5V123.5H454.5V132.5V142.5H455.5V151.5V142.5H456.5V132.5V123.5H457.5V113.5H458.5V123.5H459.5V132.5V142.5H460.5V151.5V142.5H461.5V132.5V123.5H462.5V113.5H463.5V113.5H464.5V112.5H465.5H466.5V122.5H467.5V132.5V142.5H468.5V151.5V142.5H469.5V132.5V122.5H470.5V112.5H471.5H472.5H473.5H474.5V122.5H475.5V131.5V141.5H476.5V151.5V141.5H477.5V131.5V121.5H478.5V111.5H479.5V121.5H480.5V131.5V141.5H481.5V150.5V141.5H482.5V131.5V121.5H483.5V111.5H484.5H485.5H486.5H487.5V121.5H488.5V130.5V140.5H489.5V150.5V140.5H490.5V130.5V120.5H491.5V110.5H492.5H493.5H494.5H495.5H496.5H497.5H498.5V110.5H499.5V109.5H500.5V120.5H501.5V130.5V140.5H502.5V150.5V140.5H503.5V130.5V120.5H504.5V109.5H505.5H506.5H507.5H508.5H509.5H510.5H511.5H512.5H513.5H514.5V119.5H515.5V129.5V147" fill="none" stroke="#ff0000" stroke-width="1" stroke-linejoin="miter" shape-rendering="crispEdges"/><path d="M36.5 253.5V252.5H37.5V251.5V250.5H38.5V249.5V248.5H39.5V247.5V248.5H40.5V249.5V250.5H41.5V251.5V252.5H42.5V252.5V252.5H43.5V251.5V250.5H44.5V249.5V251.5H45.5V252.5V251.5H46.5V250.5V249.5H47.5V248.5V250.5H48.5V251.5V251.5H49.5V250.5V250.5H50.5V249.5V250.5H51.5V250.5V251.5H52.5V251.5V251.5H53.5V250.5V249.5H54.5V248.5V249.5H55.5V250.5V251.5H56.5V251.5V252.5H57.5V253.5V252.5H58.5V250.5V248.5H59.5V246.5V249.5H60.5V251.5V251.5H61.5V250.5V251.5H62.5V252.5V251.5H63.5V250.5V249.5H64.5V248.5V251.5H65.5V254.5V252.5H66.5V250.5V251.5H67.5V251.5V252.5H68.5V253.5V252.5H69.5V251.5V251.5H70.5V250.5V251.5H71.5V252.5V253.5H72.5V254.5H73.5V254.5H74.5V253.5H75.5H76.5V254.5H77.5V254.5V252.5H78.5V249.5V251.5H79.5V252.5V253.5H80.5V254.5V253.5H81.5V251.5V252.5H82.5V252.5V253.5H83.5V254.5V254.5H84.5V253.5V253.5H85.5V252.5V252.5H86.5V251.5V252.5H87.5V253.5V254.5H88.5V255.5V254.5H89.5V252.5V251.5H90.5V250.5V251.5H91.5V251.5V252.5H92.5V253.5V254.5H93.5V254.5V254.5H94.5V253.5V252.5H95.5V251.5V252.5H96.5V252.5V253.5H97.5V254.5V255.5H98.5V255.5V255.5H99.5V254.5V253.5H100.5V252.5V251.5H101.5V250.5V252.5H102.5V253.5V252.5H103.5V250.5V251.5H104.5V252.5V254.5H105.5V255.5V254.5H106.5V252.5V251.5H107.5V249.5V250.5H108.5V250.5V251.5H109.5V251.5V251.5H110.5V250.5V250.5H111.5V249.5H112.5V251.5H113.5V253.5V252.5H114.5V250.5V251.5H115.5V251.5V252.5H116.5V252.5V252.5H117.5V251.5V250.5H118.5V249.5V250.5H119.5V251.5V252.5H120.5V253.5V251.5H121.5V249.5V252.5H122.5V254.5V253.5H123.5V252.5V252.5H124.5V251.5V250.5H125.5V249.5V252.5H126.5V254.5V254.5H127.5V253.5V252.5H128.5V251.5V250.5H129.5V249.5V250.5H130.5V251.5V252.5H131.5V252.5V253.5H132.5V254.5V253.5H133.5V252.5V252.5H134.5V251.5V253.5H135.5V254.5V252.5H136.5V250.5V251.5H137.5V251.5V252.5H138.5V253.5V254.5H139.5V254.5V253.5H140.5V252.5V251.5H141.5V250.5V251.5H142.5V252.5V253.5H143.5V254.5V253.5H144.5V252.5V252.5H145.5V251.5V252.5H146.5V253.5V254.5H147.5V255.5V256.5H148.5V257.5V255.5H149.5V252.5V253.5H150.5V254.5V255.5H151.5V255.5V255.5H152.5V254.5V253.5H153.5V252.5V253.5H154.5V254.5V255.5H155.5V256.5V254.5H156.5V252.5V253.5H157.5V254.5V255.5H158.5V256.5V255.5H159.5V254.5V253.5H160.5V252.5V253.5H161.5V254.5V255.5H162.5V256.5V256.5H163.5V255.5V254.5H164.5V253.5V254.5H165.5V255.5V256.5H166.5V257.5V256.5H167.5V255.5V254.5H168.5V252.5V253.5H169.5V254.5V255.5H170.5V255.5V256.5H171.5V256.5V256.5H172.5V255.5V255.5H173.5V254.5V254.5H174.5V253.5V254.5H175.5V254.5V255.5H176.5V256.5V255.5H177.5V254.5V254.5H178.5V253.5V255.5H179.5V257.5V256.5H180.5V254.5V253.5H181.5V252.5V253.5H182.5V254.5V255.5H183.5V256.5V254.5H184.5V252.5V255.5H185.5V257.5V255.5H186.5V252.5V253.5H187.5V254.5V255.5H188.5V256.5V255.5H189.5V254.5V253.5H190.5V251.5V253.5H191.5V254.5V256.5H192.5V257.5V256.5H193.5V255.5V254.5H194.5V253.5V252.5H195.5V251.5V253.5H196.5V254.5V256.5H197.5V258.5V257.5H198.5V255.5V254.5H199.5V253.5V254.5H200.5V254.5V255.5H201.5V256.5V257.5H202.5V257.5V256.5H203.5V254.5V253.5H204.5V252.5V253.5H205.5V253.5V254.5H206.5V255.5V256.5H207.5V257.5V256.5H208.5V255.5V255.5H209.5V254.5V253.5H210.5V252.5V255.5H211.5V258.5V257.5H212.5V255.5V254.5H213.5V253.5V252.5H214.5V250.5V251.5H215.5V252.5V253.5H216.5V253.5V254.5H217.5V255.5V254.5H218.5V253.5V253.5H219.5V252.5V253.5H220.5V253.5V254.5H221.5V255.5V254.5H222.5V253.5V252.5H223.5V251.5V252.5H224.5V253.5V255.5H225.5V256.5V254.5H226.5V252.5V254.5H227.5V255.5V253.5H228.5V251.5V252.5H229.5V252.5V253.5H230.5V253.5V254.5H231.5V254.5V252.5H232.5V250.5V251.5H233.5V252.5V253.5H234.5V253.5V254.5H235.5V255.5V254.5H236.5V252.5V251.5H237.5V250.5V251.5H238.5V252.5V253.5H239.5V253.5V254.5H240.5V255.5V254.5H241.5V252.5V251.5H242.5V249.5V251.5H243.5V252.5V254.5H244.5V255.5V253.5H245.5V251.5V253.5H246.5V254.5V253.5H247.5V252.5V251.5H248.5V250.5V252.5H249.5V253.5V253.5H250.5V252.5H251.5V253.5H252.5V253.5V254.5H253.5V254.5V253.5H254.5V251.5V252.5H255.5V252.5V253.5H256.5V253.5V254.5H257.5V254.5V254.5H258.5V253.5V252.5H259.5V251.5V252.5H260.5V253.5V255.5H261.5V256.5V255.5H262.5V254.5V253.5H263.5V251.5V252.5H264.5V252.5V253.5H265.5V253.5V251.5H266.5V249.5V250.5H267.5V251.5V252.5H268.5V253.5V253.5H269.5V252.5V252.5H270.5V251.5V252.5H271.5V253.5V254.5H272.5V254.5V253.5H273.5V251.5V250.5H274.5V249.5V250.5H275.5V251.5V252.5H276.5V253.5V254.5H277.5V255.5V254.5H278.5V252.5V251.5H279.5V250.5V251.5H280.5V252.5V253.5H281.5V254.5V253.5H282.5V252.5V251.5H283.5V249.5V251.5H284.5V252.5V253.5H285.5V254.5V254.5H286.5V253.5V252.5H287.5V251.5V250.5H288.5V249.5V250.5H289.5V251.5V252.5H290.5V253.5V252.5H291.5V251.5V250.5H292.5V249.5V251.5H293.5V252.5V253.5H294.5V254.5V254.5H295.5V253.5V252.5H296.5V251.5V251.5H297.5V250.5V251.5H298.5V252.5V253.5H299.5V254.5V253.5H300.5V252.5V251.5H301.5V250.5V251.5H302.5V251.5H303.5V252.5H304.5V252.5V251.5H305.5V249.5V248.5H306.5V247.5V250.5H307.5V252.5V252.5H308.5V251.5V251.5H309.5V250.5V251.5H310.5V252.5V253.5H311.5V254.5V253.5H312.5V251.5V250.5H313.5V249.5V250.5H314.5V251.5V252.5H315.5V253.5V251.5H316.5V248.5V250.5H317.5V251.5V253.5H318.5V254.5V253.5H319.5V252.5V251.5H320.5V250.5V251.5H321.5V251.5V252.5H322.5V252.5V252.5H323.5V251.5V251.5H324.5V250.5V251.5H325.5V252.5V253.5H326.5V253.5V252.5H327.5V250.5V251.5H328.5V252.5V253.5H329.5V254.5V253.5H330.5V252.5V251.5H331.5V249.5V250.5H332.5V251.5V252.5H333.5V253.5V252.5H334.5V251.5V250.5H335.5V249.5V250.5H336.5V251.5V252.5H337.5V253.5V252.5H338.5V251.5V251.5H339.5V250.5V251.5H340.5V251.5V252.5H341.5V252.5V253.5H342.5V253.5V252.5H343.5V251.5V250.5H344.5V249.5V250.5H345.5V251.5V253.5H346.5V254.5V254.5H347.5V253.5V252.5H348.5V251.5V251.5H349.5V250.5V251.5H350.5V251.5H351.5V251.5H352.5V250.5V249.5H353.5V248.5V249.5H354.5V250.5V251.5H355.5V252.5V250.5H356.5V248.5V249.5H357.5V250.5V251.5H358.5V252.5V251.5H359.5V250.5V249.5H360.5V248.5V249.5H361.5V250.5V251.5H362.5V252.5V251.5H363.5V250.5V249.5H364.5V248.5V249.5H365.5V250.5V251.5H366.5V251.5V251.5H367.5V250.5V250.5H368.5V249.5V251.5H369.5V252.5V251.5H370.5V250.5V249.5H371.5V248.5V249.5H372.5V250.5V252.5H373.5V253.5V251.5H374.5V249.5V250.5H375.5V250.5V251.5H376.5V252.5V253.5H377.5V254.5V253.5H378.5V251.5V250.5H379.5V249.5V250.5H380.5V250.5V251.5H381.5V251.5V252.5H382.5V252.5V251.5H383.5V250.5V250.5H384.5V249.5V250.5H385.5V250.5V251.5H386.5V252.5V253.5H387.5V253.5V253.5H388.5V252.5V251.5H389.5V250.5V251.5H390.5V252.5V253.5H391.5V254.5V253.5H392.5V251.5V250.5H393.5V248.5V249.5H394.5V250.5V251.5H395.5V252.5V251.5H396.5V249.5V250.5H397.5V251.5V252.5H398.5V252.5V252.5H399.5V251.5V251.5H400.5V250.5V251.5H401.5V251.5H402.5V252.5H403.5V252.5V251.5H404.5V250.5V250.5H405.5V249.5V250.5H406.5V251.5V252.5H407.5V253.5V254.5H408.5V255.5V254.5H409.5V252.5V250.5H410.5V248.5V251.5H411.5V253.5V251.5H412.5V248.5V250.5H413.5V251.5V253.5H414.5V254.5V253.5H415.5V252.5V251.5H416.5V250.5V251.5H417.5V251.5H418.5V252.5H419.5V252.5V251.5H420.5V249.5V250.5H421.5V251.5V253.5H422.5V254.5V252.5H423.5V249.5V250.5H424.5V250.5V251.5H425.5V251.5V250.5H426.5V249.5V248.5H427.5V247.5V248.5H428.5V249.5V250.5H429.5V250.5H430.5V250.5H431.5V249.5V249.5H432.5V248.5V249.5H433.5V249.5V250.5H434.5V251.5V250.5H435.5V248.5V247.5H436.5V246.5V248.5H437.5V249.5V250.5H438.5V251.5V251.5H439.5V250.5V249.5H440.5V248.5V248.5H441.5V247.5V250.5H442.5V252.5V251.5H443.5V249.5V248.5H444.5V247.5V248.5H445.5V249.5V250.5H446.5V251.5V250.5H447.5V248.5V247.5H448.5V245.5V246.5H449.5V247.5V248.5H450.5V249.5V248.5H451.5V247.5V246.5H452.5V245.5V246.5H453.5V247.5V249.5H454.5V250.5V249.5H455.5V247.5V246.5H456.5V245.5V246.5H457.5V247.5V249.5H458.5V250.5V249.5H459.5V248.5V248.5H460.5V247.5V246.5H461.5V245.5V246.5H462.5V247.5V248.5H463.5V249.5V247.5H464.5V245.5V247.5H465.5V248.5V249.5H466.5V250.5V250.5H467.5V249.5V249.5H468.5V248.5V247.5H469.5V246.5V248.5H470.5V250.5V249.5H471.5V248.5V247.5H472.5V245.5V248.5H473.5V251.5V250.5H474.5V249.5V249.5H475.5V248.5V247.5H476.5V246.5V247.5H477.5V248.5V249.5H478.5V250.5V249.5H479.5V247.5V246.5H480.5V244.5V245.5H481.5V246.5V247.5H482.5V248.5V249.5H483.5V250.5V250.5H484.5V249.5V248.5H485.5V247.5V248.5H486.5V249.5V250.5H487.5V250.5V249.5H488.5V248.5V247.5H489.5V245.5V246.5H490.5V247.5V248.5H491.5V249.5V247.5H492.5V244.5V246.5H493.5V248.5V250.5H494.5V251.5V250.5H495.5V248.5V247.5H496.5V246.5V247.5H497.5V247.5V248.5H498.5V249.5V249.5H499.5V248.5V247.5H500.5V246.5V246.5H501.5V245.5V247.5H502.5V248.5V250.5H503.5V251.5V250.5H504.5V248.5V247.5H505.5V246.5V247.5H506.5V248.5V249.5H507.5V249.5V250.5H508.5V250.5V249.5H509.5V248.5V247.5H510.5V246.5V246.5H511.5V245.5V246.5H512.5V247.5V248.5H513.5V248.5V249.5H514.5V250.5V249.5H515.5V248.5V247.5H516.5V246.5H517.5" fill="none" stroke="#0000ff" stroke-width="1" shape-rendering="crispEdges"/></svg>
<div class="t" style="top:74.7px;color:#000;font-size:12px;left:11.0px;transform:scaleX(0.862);transform-origin:0 0;">200</div>
<div class="t" style="top:98.7px;color:#000;font-size:12px;left:11.0px;transform:scaleX(0.862);transform-origin:0 0;">160</div>
<div class="t" style="top:122.7px;color:#000;font-size:12px;left:11.0px;transform:scaleX(0.862);transform-origin:0 0;">120</div>
<div class="t" style="top:146.7px;color:#000;font-size:12px;left:16.9px;transform:scaleX(0.856);transform-origin:0 0;">80</div>
<div class="t" style="top:170.7px;color:#000;font-size:12px;left:16.9px;transform:scaleX(0.856);transform-origin:0 0;">40</div>
<div class="t" style="top:74.7px;color:#000;font-size:12px;left:536.4px;transform:scaleX(0.811);transform-origin:0 0;">20</div>
<div class="t" style="top:98.7px;color:#000;font-size:12px;left:536.4px;transform:scaleX(0.811);transform-origin:0 0;">16</div>
<div class="t" style="top:122.7px;color:#000;font-size:12px;left:536.4px;transform:scaleX(0.811);transform-origin:0 0;">12</div>
<div class="t" style="top:146.7px;color:#000;font-size:12px;left:536.4px;transform:scaleX(0.815);transform-origin:0 0;">8</div>
<div class="t" style="top:170.7px;color:#000;font-size:12px;left:536.4px;transform:scaleX(0.815);transform-origin:0 0;">4</div>
<div class="t" style="top:224.7px;color:#000;font-size:12px;left:16.9px;transform:scaleX(0.856);transform-origin:0 0;">10</div>
<div class="t" style="top:224.7px;color:#000;font-size:12px;left:536.4px;transform:scaleX(0.811);transform-origin:0 0;">10</div>
<div class="t" style="top:248.7px;color:#000;font-size:12px;left:22.8px;transform:scaleX(0.815);transform-origin:0 0;">8</div>
<div class="t" style="top:248.7px;color:#000;font-size:12px;left:536.4px;transform:scaleX(0.815);transform-origin:0 0;">8</div>
<div class="t" style="top:272.7px;color:#000;font-size:12px;left:22.8px;transform:scaleX(0.815);transform-origin:0 0;">6</div>
<div class="t" style="top:272.7px;color:#000;font-size:12px;left:536.4px;transform:scaleX(0.815);transform-origin:0 0;">6</div>
<div class="t" style="top:296.7px;color:#000;font-size:12px;left:22.8px;transform:scaleX(0.815);transform-origin:0 0;">4</div>
<div class="t" style="top:296.7px;color:#000;font-size:12px;left:536.4px;transform:scaleX(0.815);transform-origin:0 0;">4</div>
<div class="t" style="top:320.7px;color:#000;font-size:12px;left:22.8px;transform:scaleX(0.815);transform-origin:0 0;">2</div>
<div class="t" style="top:320.7px;color:#000;font-size:12px;left:536.4px;transform:scaleX(0.815);transform-origin:0 0;">2</div>
<div class="t" style="top:206.7px;color:#000;font-size:12px;left:30.9px;transform:scaleX(0.779);transform-origin:0 0;">0.0</div>
<div class="t" style="top:356.7px;color:#000;font-size:12px;left:30.9px;transform:scaleX(0.779);transform-origin:0 0;">0.0</div>
<div class="t" style="top:206.7px;color:#000;font-size:12px;left:85.9px;transform:scaleX(0.779);transform-origin:0 0;">0.5</div>
<div class="t" style="top:356.7px;color:#000;font-size:12px;left:85.9px;transform:scaleX(0.779);transform-origin:0 0;">0.5</div>
<div class="t" style="top:206.7px;color:#000;font-size:12px;left:140.9px;transform:scaleX(0.779);transform-origin:0 0;">1.0</div>
<div class="t" style="top:356.7px;color:#000;font-size:12px;left:140.9px;transform:scaleX(0.779);transform-origin:0 0;">1.0</div>
<div class="t" style="top:206.7px;color:#000;font-size:12px;left:195.9px;transform:scaleX(0.779);transform-origin:0 0;">1.5</div>
<div class="t" style="top:356.7px;color:#000;font-size:12px;left:195.9px;transform:scaleX(0.779);transform-origin:0 0;">1.5</div>
<div class="t" style="top:206.7px;color:#000;font-size:12px;left:250.9px;transform:scaleX(0.779);transform-origin:0 0;">2.0</div>
<div class="t" style="top:356.7px;color:#000;font-size:12px;left:250.9px;transform:scaleX(0.779);transform-origin:0 0;">2.0</div>
<div class="t" style="top:206.7px;color:#000;font-size:12px;left:305.9px;transform:scaleX(0.779);transform-origin:0 0;">2.5</div>
<div class="t" style="top:356.7px;color:#000;font-size:12px;left:305.9px;transform:scaleX(0.779);transform-origin:0 0;">2.5</div>
<div class="t" style="top:206.7px;color:#000;font-size:12px;left:360.9px;transform:scaleX(0.779);transform-origin:0 0;">3.0</div>
<div class="t" style="top:356.7px;color:#000;font-size:12px;left:360.9px;transform:scaleX(0.779);transform-origin:0 0;">3.0</div>
<div class="t" style="top:206.7px;color:#000;font-size:12px;left:415.9px;transform:scaleX(0.779);transform-origin:0 0;">3.5</div>
<div class="t" style="top:356.7px;color:#000;font-size:12px;left:415.9px;transform:scaleX(0.779);transform-origin:0 0;">3.5</div>
<div class="t" style="top:206.7px;color:#000;font-size:12px;left:470.9px;transform:scaleX(0.779);transform-origin:0 0;">4.0</div>
<div class="t" style="top:356.7px;color:#000;font-size:12px;left:470.9px;transform:scaleX(0.779);transform-origin:0 0;">4.0</div>
<div class="t" style="top:206.7px;color:#000;font-size:12px;left:526.7px;transform:scaleX(0.779);transform-origin:0 0;">4.5</div>
<div class="t" style="top:356.7px;color:#000;font-size:12px;left:526.7px;transform:scaleX(0.779);transform-origin:0 0;">4.5</div>
<svg width="724" height="441"><path d="M565.5 79.8H559.9V154.7H720.6V79.8H616.5" fill="none" stroke="#848484" stroke-width="1.5"/></svg>
<div class="t" style="top:73.4px;color:#000;font-size:12px;left:568.0px;transform:scaleX(0.995);transform-origin:0 0;">Disc info</div>
<div class="t" style="top:85.0px;color:#000;font-size:12px;left:567.3px;transform:scaleX(0.907);transform-origin:0 0;">Type:</div>
<div class="t" style="top:85.0px;color:#00008a;font-size:12px;left:622.1px;transform:scaleX(0.998);transform-origin:0 0;">DVD-R</div>
<div class="t" style="top:101.8px;color:#000;font-size:12px;left:567.3px;transform:scaleX(0.780);transform-origin:0 0;">ID:</div>
<div class="t" style="top:101.8px;color:#00008a;font-size:12px;left:622.1px;transform:scaleX(0.853);transform-origin:0 0;">SONY16D1</div>
<div class="t" style="top:117.9px;color:#000;font-size:12px;left:567.3px;transform:scaleX(0.889);transform-origin:0 0;">Date:</div>
<div class="t" style="top:117.9px;color:#00008a;font-size:12px;left:622.1px;transform:scaleX(0.929);transform-origin:0 0;">14 Oct 2007</div>
<div class="t" style="top:134.7px;color:#000;font-size:12px;left:567.3px;transform:scaleX(0.855);transform-origin:0 0;">Label:</div>
<div class="t" style="top:134.7px;color:#00008a;font-size:12px;left:622.1px;transform:scaleX(0.858);transform-origin:0 0;">CDS_TEST_B2</div>
<svg width="724" height="441"><path d="M565.5 163.9H559.9V350.3H720.6V163.9H611.5" fill="none" stroke="#848484" stroke-width="1.5"/></svg>
<div class="t" style="top:156.5px;color:#000;font-size:12px;left:568.0px;transform:scaleX(0.944);transform-origin:0 0;">Settings</div>
<svg width="724" height="441"><rect x="568.9" y="172.2" width="97.90" height="19.50" fill="#fff"/><rect x="665.10" y="172.2" width="1.7" height="19.50" fill="#c2c2c2"/><rect x="568.9" y="190.00" width="97.90" height="1.7" fill="#c2c2c2"/><rect x="568.9" y="172.2" width="96.20" height="1" fill="#7a7a7a"/><rect x="568.9" y="172.2" width="1" height="17.80" fill="#7a7a7a"/><rect x="569.80" y="173.10" width="94.50" height="1.1" fill="#000"/><rect x="569.80" y="173.10" width="1.1" height="16.10" fill="#000"/></svg>
<div class="t" style="top:174.8px;color:#000;font-size:12px;left:572.1px;transform:scaleX(1.017);transform-origin:0 0;">4 X</div>
<svg width="724" height="441"><rect x="648.7" y="174.2" width="16.40" height="15.80" fill="#fff"/><rect x="648.7" y="174.2" width="15.30" height="1.6" fill="#c2c2c2"/><rect x="648.7" y="174.2" width="1.6" height="14.70" fill="#c2c2c2"/><rect x="650.30" y="187.90" width="13.70" height="1" fill="#858585"/><rect x="663.00" y="175.80" width="1" height="13.10" fill="#858585"/><rect x="648.7" y="188.90" width="16.40" height="1.1" fill="#000"/><rect x="664.00" y="174.2" width="1.1" height="15.80" fill="#000"/></svg>
<svg width="724" height="441"><path d="M652 180h7l-3.5 4z" fill="#000"/></svg>
<svg width="724" height="441"><rect x="676.2" y="170.2" width="25.80" height="20.60" fill="#fff"/><rect x="676.2" y="170.2" width="24.40" height="1.8" fill="#c2c2c2"/><rect x="676.2" y="170.2" width="1.8" height="19.20" fill="#c2c2c2"/><rect x="678.00" y="188.40" width="22.60" height="1" fill="#858585"/><rect x="699.60" y="172.00" width="1" height="17.40" fill="#858585"/><rect x="676.2" y="189.40" width="25.80" height="1.4" fill="#000"/><rect x="700.60" y="170.2" width="1.4" height="20.60" fill="#000"/></svg>
<svg width="724" height="441"><rect x="681.5" y="172.5" width="13" height="15" fill="#fff" stroke="#000" stroke-width="1"/>
<g fill="none" stroke="#008a00" stroke-width="1.2"><path d="M684.7 179.5v-1.6q0 -1.6 1.6 -1.6h3.4"/><path d="M691.4 180.5v1.7q0 1.6 -1.6 1.6h-3.2"/></g>
<path d="M688.2 174v4.6l2.6 -2.3z" fill="#008a00"/><path d="M688 181.5v4.6l-2.6 -2.3z" fill="#008a00"/></svg>
<div class="t" style="top:198.8px;color:#000;font-size:12px;left:571.2px;transform:scaleX(0.920);transform-origin:0 0;">Start:</div>
<svg width="724" height="441"><rect x="632.3" y="196.8" width="69.50" height="16.60" fill="#fff"/><rect x="700.10" y="196.8" width="1.7" height="16.60" fill="#c2c2c2"/><rect x="632.3" y="211.70" width="69.50" height="1.7" fill="#c2c2c2"/><rect x="632.3" y="196.8" width="67.80" height="1" fill="#7a7a7a"/><rect x="632.3" y="196.8" width="1" height="14.90" fill="#7a7a7a"/><rect x="633.20" y="197.70" width="66.10" height="1.1" fill="#000"/><rect x="633.20" y="197.70" width="1.1" height="13.20" fill="#000"/></svg>
<div class="t" style="top:197.9px;color:#000;font-size:12px;left:635.8px;transform:scaleX(0.931);transform-origin:0 0;">0000 MB</div>
<div class="t" style="top:220.0px;color:#000;font-size:12px;left:571.2px;transform:scaleX(0.812);transform-origin:0 0;">End:</div>
<svg width="724" height="441"><rect x="632.3" y="218" width="69.50" height="16.60" fill="#fff"/><rect x="700.10" y="218" width="1.7" height="16.60" fill="#c2c2c2"/><rect x="632.3" y="232.90" width="69.50" height="1.7" fill="#c2c2c2"/><rect x="632.3" y="218" width="67.80" height="1" fill="#7a7a7a"/><rect x="632.3" y="218" width="1" height="14.90" fill="#7a7a7a"/><rect x="633.20" y="218.90" width="66.10" height="1.1" fill="#000"/><rect x="633.20" y="218.90" width="1.1" height="13.20" fill="#000"/></svg>
<div class="t" style="top:219.0px;color:#000;font-size:12px;left:635.8px;transform:scaleX(0.931);transform-origin:0 0;">4489 MB</div>
<svg width="724" height="441"><rect x="571.1" y="237.3" width="12.40" height="12.20" fill="#fff"/><rect x="581.80" y="237.3" width="1.7" height="12.20" fill="#c2c2c2"/><rect x="571.1" y="247.80" width="12.40" height="1.7" fill="#c2c2c2"/><rect x="571.1" y="237.3" width="10.70" height="1" fill="#7a7a7a"/><rect x="571.1" y="237.3" width="1" height="10.50" fill="#7a7a7a"/><rect x="572.00" y="238.20" width="9.00" height="1.1" fill="#000"/><rect x="572.00" y="238.20" width="1.1" height="8.80" fill="#000"/></svg>
<div class="t" style="top:236.3px;color:#000;font-size:12px;left:589.0px;transform:scaleX(0.942);transform-origin:0 0;">Quick scan</div>
<svg width="724" height="441"><rect x="571.1" y="254.4" width="12.40" height="12.20" fill="#fff"/><rect x="581.80" y="254.4" width="1.7" height="12.20" fill="#c2c2c2"/><rect x="571.1" y="264.90" width="12.40" height="1.7" fill="#c2c2c2"/><rect x="571.1" y="254.4" width="10.70" height="1" fill="#7a7a7a"/><rect x="571.1" y="254.4" width="1" height="10.50" fill="#7a7a7a"/><rect x="572.00" y="255.30" width="9.00" height="1.1" fill="#000"/><rect x="572.00" y="255.30" width="1.1" height="8.80" fill="#000"/></svg>
<svg width="724" height="441"><path transform="translate(574,254.4)" d="M0,4.3L2.4,6.7L7.7,2.8V5.8L2.4,9.7L0,7.3Z" fill="#000"/></svg>
<div class="t" style="top:252.8px;color:#000;font-size:12px;left:589.0px;transform:scaleX(0.935);transform-origin:0 0;">Show C1/PIE</div>
<svg width="724" height="441"><rect x="571.1" y="267.4" width="12.40" height="12.20" fill="#fff"/><rect x="581.80" y="267.4" width="1.7" height="12.20" fill="#c2c2c2"/><rect x="571.1" y="277.90" width="12.40" height="1.7" fill="#c2c2c2"/><rect x="571.1" y="267.4" width="10.70" height="1" fill="#7a7a7a"/><rect x="571.1" y="267.4" width="1" height="10.50" fill="#7a7a7a"/><rect x="572.00" y="268.30" width="9.00" height="1.1" fill="#000"/><rect x="572.00" y="268.30" width="1.1" height="8.80" fill="#000"/></svg>
<svg width="724" height="441"><path transform="translate(574,267.4)" d="M0,4.3L2.4,6.7L7.7,2.8V5.8L2.4,9.7L0,7.3Z" fill="#000"/></svg>
<div class="t" style="top:266.0px;color:#000;font-size:12px;left:589.0px;transform:scaleX(0.945);transform-origin:0 0;">Show C2/PIF</div>
<svg width="724" height="441"><rect x="571.1" y="282.2" width="12.40" height="12.20" fill="#fff"/><rect x="581.80" y="282.2" width="1.7" height="12.20" fill="#c2c2c2"/><rect x="571.1" y="292.70" width="12.40" height="1.7" fill="#c2c2c2"/><rect x="571.1" y="282.2" width="10.70" height="1" fill="#7a7a7a"/><rect x="571.1" y="282.2" width="1" height="10.50" fill="#7a7a7a"/><rect x="572.00" y="283.10" width="9.00" height="1.1" fill="#000"/><rect x="572.00" y="283.10" width="1.1" height="8.80" fill="#000"/></svg>
<svg width="724" height="441"><path transform="translate(574,282.2)" d="M0,4.3L2.4,6.7L7.7,2.8V5.8L2.4,9.7L0,7.3Z" fill="#000"/></svg>
<div class="t" style="top:281.0px;color:#000;font-size:12px;left:589.0px;transform:scaleX(0.954);transform-origin:0 0;">Show jitter</div>
<svg width="724" height="441"><rect x="571.1" y="296.8" width="12.40" height="12.20" fill="#fff"/><rect x="581.80" y="296.8" width="1.7" height="12.20" fill="#c2c2c2"/><rect x="571.1" y="307.30" width="12.40" height="1.7" fill="#c2c2c2"/><rect x="571.1" y="296.8" width="10.70" height="1" fill="#7a7a7a"/><rect x="571.1" y="296.8" width="1" height="10.50" fill="#7a7a7a"/><rect x="572.00" y="297.70" width="9.00" height="1.1" fill="#000"/><rect x="572.00" y="297.70" width="1.1" height="8.80" fill="#000"/></svg>
<svg width="724" height="441"><path transform="translate(574,296.8)" d="M0,4.3L2.4,6.7L7.7,2.8V5.8L2.4,9.7L0,7.3Z" fill="#000"/></svg>
<div class="t" style="top:295.7px;color:#000;font-size:12px;left:589.0px;transform:scaleX(0.921);transform-origin:0 0;">Show read speed</div>
<svg width="724" height="441"><rect x="571.1" y="311.2" width="12.40" height="12.20" fill="#fff"/><rect x="581.80" y="311.2" width="1.7" height="12.20" fill="#c2c2c2"/><rect x="571.1" y="321.70" width="12.40" height="1.7" fill="#c2c2c2"/><rect x="571.1" y="311.2" width="10.70" height="1" fill="#7a7a7a"/><rect x="571.1" y="311.2" width="1" height="10.50" fill="#7a7a7a"/><rect x="572.00" y="312.10" width="9.00" height="1.1" fill="#000"/><rect x="572.00" y="312.10" width="1.1" height="8.80" fill="#000"/></svg>
<svg width="724" height="441"><path transform="translate(574,311.2)" d="M0,4.3L2.4,6.7L7.7,2.8V5.8L2.4,9.7L0,7.3Z" fill="#000"/></svg>
<div class="t" style="top:310.0px;color:#000;font-size:12px;left:589.0px;transform:scaleX(0.939);transform-origin:0 0;">Show write speed</div>
<svg width="724" height="441"><rect x="627.3" y="326.6" width="88.10" height="19.80" fill="#fff"/><rect x="627.3" y="326.6" width="86.70" height="1.8" fill="#c2c2c2"/><rect x="627.3" y="326.6" width="1.8" height="18.40" fill="#c2c2c2"/><rect x="629.10" y="344.00" width="84.90" height="1" fill="#858585"/><rect x="713.00" y="328.40" width="1" height="16.60" fill="#858585"/><rect x="627.3" y="345.00" width="88.10" height="1.4" fill="#000"/><rect x="714.00" y="326.6" width="1.4" height="19.80" fill="#000"/></svg>
<div class="t" style="top:328.6px;color:#000;font-size:12px;left:646.9px;transform:scaleX(0.908);transform-origin:0 0;">Advanced</div>
<svg width="724" height="441"><path d="M559.9 356.6H720.6V378.5H559.9Z" fill="none" stroke="#848484" stroke-width="1.5"/></svg>
<div class="t" style="top:361.0px;color:#000;font-size:12px;left:570.6px;transform:scaleX(0.947);transform-origin:0 0;">Quality score:</div>
<div class="t" style="top:361.0px;color:#00008a;font-size:12px;left:698.2px;transform:scaleX(0.826);transform-origin:0 0;">93</div>
<svg width="724" height="441"><path d="M559.9 386.8H720.6V437.3H559.9Z" fill="none" stroke="#848484" stroke-width="1.5"/></svg>
<div class="t" style="top:392.4px;color:#000;font-size:12px;left:571.4px;transform:scaleX(0.891);transform-origin:0 0;">Progress:</div>
<div class="t" style="top:392.4px;color:#00008a;font-size:12px;left:680.4px;transform:scaleX(0.849);transform-origin:0 0;">100 %</div>
<div class="t" style="top:407.6px;color:#000;font-size:12px;left:571.4px;transform:scaleX(0.908);transform-origin:0 0;">Position:</div>
<div class="t" style="top:407.6px;color:#00008a;font-size:12px;left:663.9px;transform:scaleX(0.944);transform-origin:0 0;">4488 MB</div>
<div class="t" style="top:420.3px;color:#000;font-size:12px;left:571.4px;transform:scaleX(0.843);transform-origin:0 0;">Speed:</div>
<div class="t" style="top:420.3px;color:#00008a;font-size:12px;left:677.6px;transform:scaleX(0.911);transform-origin:0 0;">3.85 X</div>
<svg width="724" height="441"><path d="M10 386.6H2.5V438.1H171.6V386.6H73.8" fill="none" stroke="#848484" stroke-width="1.5"/></svg>
<div style="position:absolute;left:12px;top:383px;width:8px;height:8px;background:#0000ff;"></div>
<div class="t" style="top:379.2px;color:#000;font-size:12px;left:24.1px;transform:scaleX(0.935);transform-origin:0 0;">PI Errors</div>
<svg width="724" height="441"><path d="M194 386.6H186.5V438.1H355.9V386.6H267.8" fill="none" stroke="#848484" stroke-width="1.5"/></svg>
<div style="position:absolute;left:196px;top:383px;width:8px;height:8px;background:#ff0000;"></div>
<div class="t" style="top:379.2px;color:#000;font-size:12px;left:208.8px;transform:scaleX(0.932);transform-origin:0 0;">PI Failures</div>
<svg width="724" height="441"><path d="M379 386.6H371.6V424.2H543.2V386.6H420" fill="none" stroke="#848484" stroke-width="1.5"/></svg>
<div style="position:absolute;left:381px;top:383px;width:8px;height:8px;background:#0000ff;"></div>
<div class="t" style="top:379.2px;color:#000;font-size:12px;left:393.8px;transform:scaleX(0.994);transform-origin:0 0;">Jitter</div>
<div class="t" style="top:394.2px;color:#000;font-size:12px;left:11.9px;transform:scaleX(0.881);transform-origin:0 0;">Average:</div>
<div class="t" style="top:394.2px;color:#000;font-size:12px;left:196.8px;transform:scaleX(0.881);transform-origin:0 0;">Average:</div>
<div class="t" style="top:394.2px;color:#00008a;font-size:12px;left:133.8px;transform:scaleX(0.833);transform-origin:0 0;">34.56</div>
<div class="t" style="top:394.2px;color:#00008a;font-size:12px;left:324.7px;transform:scaleX(0.802);transform-origin:0 0;">0.01</div>
<div class="t" style="top:394.2px;color:#000;font-size:12px;left:383.2px;transform:scaleX(0.881);transform-origin:0 0;">Average:</div>
<div class="t" style="top:394.2px;color:#00008a;font-size:12px;left:500.3px;transform:scaleX(0.831);transform-origin:0 0;">8.55 %</div>
<div class="t" style="top:407.7px;color:#000;font-size:12px;left:11.9px;transform:scaleX(0.870);transform-origin:0 0;">Maximum:</div>
<div class="t" style="top:407.7px;color:#000;font-size:12px;left:196.8px;transform:scaleX(0.870);transform-origin:0 0;">Maximum:</div>
<div class="t" style="top:407.7px;color:#00008a;font-size:12px;left:141.2px;transform:scaleX(0.920);transform-origin:0 0;">114</div>
<div class="t" style="top:407.7px;color:#00008a;font-size:12px;left:337.8px;transform:scaleX(0.844);transform-origin:0 0;">3</div>
<div class="t" style="top:407.7px;color:#000;font-size:12px;left:383.2px;transform:scaleX(0.870);transform-origin:0 0;">Maximum:</div>
<div class="t" style="top:407.7px;color:#00008a;font-size:12px;left:506.3px;transform:scaleX(0.813);transform-origin:0 0;">9.2 %</div>
<div class="t" style="top:420.4px;color:#000;font-size:12px;left:11.9px;transform:scaleX(0.913);transform-origin:0 0;">Total:</div>
<div class="t" style="top:420.4px;color:#000;font-size:12px;left:196.8px;transform:scaleX(0.913);transform-origin:0 0;">Total:</div>
<div class="t" style="top:420.4px;color:#00008a;font-size:12px;left:124.0px;transform:scaleX(0.867);transform-origin:0 0;">620414</div>
<div class="t" style="top:420.4px;color:#00008a;font-size:12px;left:321.0px;transform:scaleX(0.845);transform-origin:0 0;">1262</div>
<div class="t" style="top:426.0px;color:#000;font-size:12px;left:383.2px;transform:scaleX(0.907);transform-origin:0 0;">PO failures:</div>
<div style="position:absolute;left:524.3px;top:431.5px;width:4.4px;height:1.1px;background:#00008a;"></div>
</body></html>
